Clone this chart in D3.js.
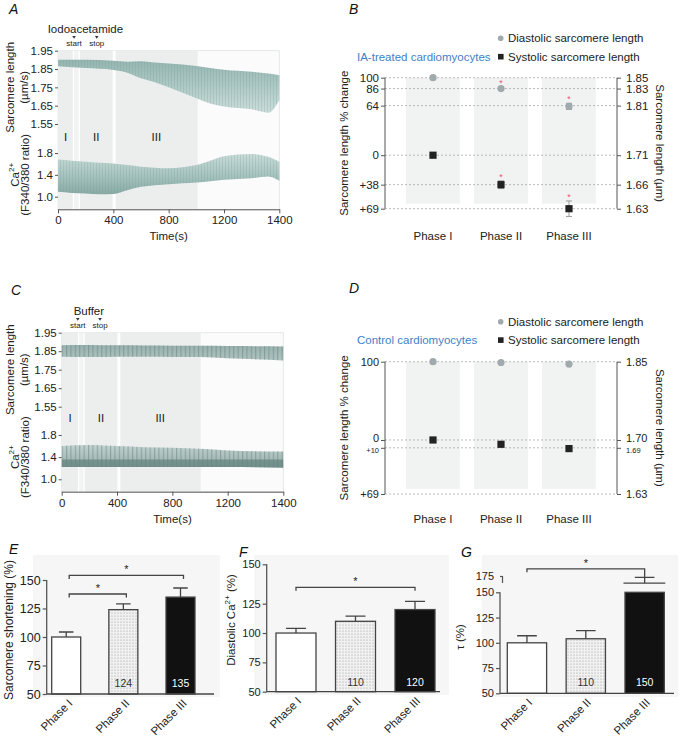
<!DOCTYPE html>
<html><head><meta charset="utf-8">
<script src="https://cdn.jsdelivr.net/npm/d3@7"></script>
<style>
body{margin:0;background:#fff}
svg{font-family:"Liberation Sans",Arial,Helvetica,sans-serif;display:block}
</style>
</head><body>
<svg id="c" width="680" height="740"></svg>
<script>
// ================= DATA =================
const timeTicks = [0, 400, 800, 1200, 1400];
const slTicks = [1.95, 1.85, 1.75, 1.65, 1.55];
const caTicks = [1.8, 1.4, 1.0];
const romanPhases = ["I", "II", "III"];
const phaseLabels = ["Phase I", "Phase II", "Phase III"];

// Panel A (iodoacetamide) – phases (s), start/stop marks (s), trace envelopes
const aPhaseStart = [0, 154, 412];
const aPhaseEnd = [111, 400, 1010];
const aMarks = [116, 280];
const aSLTime = [0, 200, 400, 500, 600, 700, 800, 900, 1000, 1100, 1200, 1300, 1360, 1400];
const aSLHigh = [1.900, 1.900, 1.895, 1.890, 1.893, 1.886, 1.880, 1.875, 1.866, 1.856, 1.846, 1.835, 1.826, 1.816];
const aSLLow  = [1.865, 1.855, 1.845, 1.830, 1.800, 1.778, 1.750, 1.720, 1.690, 1.662, 1.645, 1.630, 1.612, 1.680];
const aCaTime = [0, 100, 200, 300, 400, 500, 600, 700, 800, 900, 1000, 1100, 1200, 1300, 1360, 1400];
const aCaHigh = [1.68, 1.66, 1.64, 1.62, 1.61, 1.58, 1.55, 1.53, 1.52, 1.54, 1.58, 1.66, 1.74, 1.78, 1.73, 1.64];
const aCaLow  = [1.09, 1.07, 1.06, 1.045, 1.05, 1.12, 1.18, 1.21, 1.23, 1.245, 1.26, 1.285, 1.31, 1.34, 1.37, 1.29];

// Panel C (buffer)
const cPhaseStart = [0, 162, 419];
const cPhaseEnd = [122, 407, 1005];
const cMarks = [116, 277];
const cTime = [0, 200, 400, 600, 800, 1000, 1200, 1400];
const cSLHigh = [1.882, 1.884, 1.882, 1.881, 1.880, 1.879, 1.878, 1.876];
const cSLLow  = [1.820, 1.818, 1.820, 1.820, 1.819, 1.818, 1.812, 1.800];
const cCaHigh = [1.60, 1.62, 1.60, 1.58, 1.57, 1.55, 1.52, 1.50];
const cCaLow  = [1.22, 1.22, 1.22, 1.22, 1.22, 1.22, 1.22, 1.21];

// Panel B (IA-treated): % change (negative = shortening, labelled "+")
const bDiastolic = [100, 86, 63];
const bDiaErr = [1, 2, 4];
const bSystolic = [0, -38, -69];
const bSysErr = [1.5, 5, 10];
const bSig = [false, true, true];
const bTicks = [100, 86, 64, 0, -38, -69];
const bTickLabels = ["100", "86", "64", "0", "+38", "+69"];
const bRightLabels = ["1.85", "1.83", "1.81", "1.71", "1.66", "1.63"];

// Panel D (control)
const dDiastolic = [100, 99, 97];
const dDiaErr = [0, 0, 0];
const dSystolic = [0, -5.5, -11];
const dSysErr = [0, 0, 0];
const dSig = [false, false, false];
const dTicks = [100, 0, -10, -69];
const dTickLabels = ["100", "0", "+10", "+69"];
const dRightLabels = ["1.85", "1.70", "1.69", "1.63"];
const dSmallTick = [false, false, true, false];

// Panel E – sarcomere shortening (%)
const eValues = [100, 124, 135];
const eErrors = [4.4, 5, 8];
const eLabels = ["", "124", "135"];
const eTicks = [50, 75, 100, 125, 150];
const eSig = [[0, 1, 137.7], [0, 2, 154]];

// Panel F – diastolic Ca2+ (%)
const fValues = [100, 110, 120];
const fErrors = [4, 4.4, 6.5];
const fLabels = ["", "110", "120"];
const fTicks = [50, 75, 100, 125, 150];
const fSig = [[0, 2, 135.4]];

// Panel G – tau (%)
const gValues = [100, 104, 150];
const gErrors = [7, 8, 23];
const gLabels = ["", "110", "150"];
const gTicks = [50, 75, 100, 125, 150, 175];
const gSig = [[0, 2, 186]];

// ================= DRAWING =================
const FONT = "'Liberation Sans', Arial, Helvetica, sans-serif";
const svg = d3.select("#c");
svg.append("rect").attr("width", 680).attr("height", 740).attr("fill", "#fff");
const defs = svg.append("defs");

function linGrad(id, stops) {
  const g = defs.append("linearGradient").attr("id", id)
    .attr("x1", 0).attr("y1", 0).attr("x2", 0).attr("y2", 1);
  stops.forEach(s => g.append("stop").attr("offset", s[0]).attr("stop-color", s[1]));
}
function stripes(id, w, sw, color, op) {
  const p = defs.append("pattern").attr("id", id).attr("patternUnits", "userSpaceOnUse")
    .attr("width", w).attr("height", 20);
  p.append("rect").attr("x", 0).attr("width", sw).attr("height", 20).attr("fill", color).attr("opacity", op);
}
linGrad("gASL", [[0, "#95b5b0"], [0.4, "#a9c5c1"], [1, "#cbdddb"]]);
linGrad("gACa", [[0, "#c8dbd8"], [0.5, "#a9c5c1"], [1, "#88aaa5"]]);
linGrad("gCSL", [[0, "#98b1ae"], [1, "#afc3c0"]]);
linGrad("gCCa", [[0, "#c2d2cf"], [0.6, "#a7bcb9"], [0.68, "#76928e"], [1, "#728f8b"]]);
stripes("sA", 3, 0.8, "#6f958f", 0.28);
stripes("sC", 4.4, 1.1, "#627f7b", 0.5);
// stipple for phase II bars
const st = defs.append("pattern").attr("id", "stip").attr("patternUnits", "userSpaceOnUse")
  .attr("width", 3).attr("height", 3);
st.append("rect").attr("width", 3).attr("height", 3).attr("fill", "#f1f1f1");
st.append("circle").attr("cx", 1).attr("cy", 1).attr("r", 0.6).attr("fill", "#9a9a9a");

function styleAxis(sel, fs) {
  sel.attr("font-family", FONT).attr("font-size", fs);
  sel.selectAll("text").attr("fill", "#222");
  sel.selectAll("line").attr("stroke", "#555");
  sel.select(".domain").attr("stroke", "#555");
}
function panelLetter(t, x, y) {
  svg.append("text").attr("x", x).attr("y", y).attr("font-size", 14).attr("font-style", "italic")
    .attr("fill", "#111").text(t);
}
function rotText(x, y, angle, parts, fs, anchor) {
  const t = svg.append("text").attr("transform", `translate(${x},${y}) rotate(${angle})`)
    .attr("text-anchor", anchor || "middle").attr("font-size", fs).attr("fill", "#222");
  parts.forEach(p => {
    const ts = t.append("tspan").text(p.t);
    if (p.sup) ts.attr("font-size", fs * 0.7).attr("dy", -fs * 0.4);
    if (p.after) ts.attr("dy", fs * 0.4);
  });
  return t;
}

// ---------- Trace panels (A, C) ----------
function tracePanel(cfg) {
  const g = svg.append("g");
  const x = d3.scaleLinear().domain([0, 1200, 1400]).range(cfg.xRange);
  const ySL = d3.scaleLinear().domain([1.55, 1.95]).range(cfg.slRange);
  const yCa = d3.scaleLinear().domain([1.0, 1.8]).range(cfg.caRange);
  const x0 = x(0), x1 = x(1400), top = ySL(1.95), bot = cfg.axisY;

  g.append("rect").attr("x", x0).attr("y", top).attr("width", x1 - x0).attr("height", bot - top)
    .attr("fill", "#fbfbfb").attr("stroke", "#e0e3e3").attr("stroke-width", 0.8);
  g.append("rect").attr("x", x(cfg.phaseEnd[0])).attr("y", top)
    .attr("width", x(cfg.phaseStart[1]) - x(cfg.phaseEnd[0])).attr("height", bot - top).attr("fill", "#f2f3f3");
  cfg.phaseStart.forEach((s, i) => {
    g.append("rect").attr("x", x(s)).attr("y", top).attr("width", x(cfg.phaseEnd[i]) - x(s))
      .attr("height", bot - top).attr("fill", "#eceeee");
  });
  [cfg.phaseEnd[0], cfg.phaseStart[1], cfg.phaseEnd[1], cfg.phaseStart[2]].forEach(t => {
    g.append("line").attr("x1", x(t)).attr("x2", x(t)).attr("y1", top).attr("y2", bot)
      .attr("stroke", "#fff").attr("stroke-width", 1.2);
  });
  // phase labels
  cfg.phaseStart.forEach((s, i) => {
    g.append("text").attr("x", x((s + cfg.phaseEnd[i]) / 2)).attr("y", cfg.labelY)
      .attr("text-anchor", "middle").attr("font-size", 11.5).attr("fill", "#222").text(romanPhases[i]);
  });

  const slData = cfg.slTime.map((t, i) => ({ t, hi: cfg.slHigh[i], lo: cfg.slLow[i] }));
  const caData = cfg.caTime.map((t, i) => ({ t, hi: cfg.caHigh[i], lo: cfg.caLow[i] }));
  const slArea = d3.area().x(d => x(d.t)).y0(d => ySL(d.lo)).y1(d => ySL(d.hi)).curve(d3.curveMonotoneX);
  const caArea = d3.area().x(d => x(d.t)).y0(d => yCa(d.lo)).y1(d => yCa(d.hi)).curve(d3.curveMonotoneX);
  g.append("path").attr("d", slArea(slData)).attr("fill", `url(#${cfg.slGrad})`);
  g.append("path").attr("d", slArea(slData)).attr("fill", `url(#${cfg.stripe})`);
  g.append("path").attr("d", caArea(caData)).attr("fill", `url(#${cfg.caGrad})`);
  g.append("path").attr("d", caArea(caData)).attr("fill", `url(#${cfg.stripe})`);

  // axes
  const xa = g.append("g").attr("transform", `translate(0,${bot})`)
    .call(d3.axisBottom(x).tickValues(timeTicks).tickFormat(d3.format("d")).tickSize(4).tickSizeOuter(0).tickPadding(3));
  styleAxis(xa, 11.5);
  const ya1 = g.append("g").attr("transform", `translate(${x0},0)`)
    .call(d3.axisLeft(ySL).tickValues(slTicks).tickFormat(d3.format(".2f")).tickSize(3).tickPadding(2));
  ya1.select(".domain").remove();
  styleAxis(ya1, 11.5);
  const ya2 = g.append("g").attr("transform", `translate(${x0},0)`)
    .call(d3.axisLeft(yCa).tickValues(caTicks).tickFormat(d3.format(".1f")).tickSize(3).tickPadding(2));
  ya2.select(".domain").remove();
  styleAxis(ya2, 11.5);

  g.append("text").attr("x", (x0 + x1) / 2).attr("y", bot + 31).attr("text-anchor", "middle")
    .attr("font-size", 11.5).attr("fill", "#222").text("Time(s)");

  // agent annotation
  g.append("text").attr("x", x((cfg.marks[0] + cfg.marks[1]) / 2)).attr("y", cfg.markY - 4)
    .attr("text-anchor", "middle").attr("font-size", 11.5).attr("fill", "#222").text(cfg.agent);
  ["start", "stop"].forEach((s, i) => {
    g.append("path").attr("transform", `translate(${x(cfg.marks[i])},${cfg.markY})`)
      .attr("d", "M-1.8,-1.4L1.8,-1.4L0,1.4Z").attr("fill", "#333");
    g.append("text").attr("x", x(cfg.marks[i])).attr("y", cfg.markY + 9).attr("text-anchor", "middle")
      .attr("font-size", 8).attr("fill", "#222").text(s);
  });

  // y titles
  const slMid = (ySL(1.95) + ySL(1.55)) / 2;
  rotText(13.5, slMid, -90, [{ t: "Sarcomere length" }], 11.5);
  rotText(27.5, slMid, -90, [{ t: "(µm/s)" }], 11.5);
  const caMid = (yCa(1.8) + yCa(1.0)) / 2;
  rotText(18.5, caMid, -90, [{ t: "Ca" }, { t: "2+", sup: true }], 11.5);
  rotText(29, caMid, -90, [{ t: "(F340/380 ratio)" }], 11.5);
}

tracePanel({
  xRange: [58, 224, 279.3], slRange: [124, 50.7], caRange: [196.7, 153], axisY: 209.3,
  phaseStart: aPhaseStart, phaseEnd: aPhaseEnd, labelY: 140.5, marks: aMarks, markY: 37.3,
  agent: "Iodoacetamide", slTime: aSLTime, slHigh: aSLHigh, slLow: aSLLow,
  caTime: aCaTime, caHigh: aCaHigh, caLow: aCaLow,
  slGrad: "gASL", caGrad: "gACa", stripe: "sA"
});
tracePanel({
  xRange: [61.7, 227.7, 283.3], slRange: [406.7, 332.7], caRange: [479.3, 435], axisY: 491.7,
  phaseStart: cPhaseStart, phaseEnd: cPhaseEnd, labelY: 422, marks: cMarks, markY: 319.3,
  agent: "Buffer", slTime: cTime, slHigh: cSLHigh, slLow: cSLLow,
  caTime: cTime, caHigh: cCaHigh, caLow: cCaLow,
  slGrad: "gCSL", caGrad: "gCCa", stripe: "sC"
});

// ---------- Dot panels (B, D) ----------
function dotPanel(cfg) {
  const g = svg.append("g");
  const y = d3.scaleLinear().domain([-69, 100]).range(cfg.yRange);
  const x = d3.scalePoint().domain(phaseLabels).range([433, 569]);
  const xl = 385, xr = 617, bw = 54;
  const mainFs = cfg.small ? 11 : 11.5;
  // bands
  phaseLabels.forEach(p => {
    g.append("rect").attr("x", x(p) - bw / 2).attr("y", y(100)).attr("width", bw)
      .attr("height", y(-69) - y(100) - 5).attr("fill", "#f1f2f2");
  });
  // grid
  cfg.ticks.forEach(t => {
    g.append("line").attr("x1", xl).attr("x2", xr).attr("y1", y(t)).attr("y2", y(t))
      .attr("stroke", "#a9a9a9").attr("stroke-width", 0.8).attr("stroke-dasharray", "2,2");
  });
  // axes
  const la = g.append("g").attr("transform", `translate(${xl},0)`)
    .call(d3.axisLeft(y).tickValues(cfg.ticks).tickFormat((d, i) => cfg.tickLabels[i]).tickSize(4).tickPadding(2).tickSizeOuter(0));
  la.select(".domain").attr("d", `M0,${y(100)}V${y(-69)}`);
  styleAxis(la, mainFs);
  const ra = g.append("g").attr("transform", `translate(${xr},0)`)
    .call(d3.axisRight(y).tickValues(cfg.ticks).tickFormat((d, i) => cfg.rightLabels[i]).tickSize(4).tickPadding(5).tickSizeOuter(0));
  ra.select(".domain").attr("d", `M0,${y(100)}V${y(-69)}`);
  styleAxis(ra, mainFs);
  if (cfg.small) {
    [la, ra].forEach(ax => {
      ax.selectAll(".tick text")
        .attr("font-size", (d, i) => cfg.small[i] ? 7.5 : mainFs)
        .attr("dy", (d, i) => cfg.small[i] ? "0.62em" : (cfg.ticks[i] === 0 ? "0.1em" : "0.32em"));
    });
  }
  // error bars
  function errBar(cx, v, e) {
    if (!e) return;
    g.append("path").attr("d", `M${cx - 3},${y(v + e)}H${cx + 3}M${cx},${y(v + e)}V${y(v - e)}M${cx - 3},${y(v - e)}H${cx + 3}`)
      .attr("stroke", "#9c9c9c").attr("stroke-width", 1).attr("fill", "none");
  }
  phaseLabels.forEach((p, i) => {
    errBar(x(p), cfg.dia[i], cfg.diaErr[i]);
    errBar(x(p), cfg.sys[i], cfg.sysErr[i]);
  });
  g.selectAll(".dia").data(cfg.dia).join("circle")
    .attr("cx", (d, i) => x(phaseLabels[i])).attr("cy", d => y(d)).attr("r", 3.6).attr("fill", "#a0a9ab");
  g.selectAll(".sys").data(cfg.sys).join("rect")
    .attr("x", (d, i) => x(phaseLabels[i]) - 3.6).attr("y", d => y(d) - 3.6)
    .attr("width", 7.2).attr("height", 7.2).attr("fill", "#222");
  // asterisks
  phaseLabels.forEach((p, i) => {
    if (!cfg.sig[i]) return;
    [[cfg.dia[i], cfg.diaErr[i]], [cfg.sys[i], cfg.sysErr[i]]].forEach(([v, e]) => {
      g.append("text").attr("x", x(p)).attr("y", y(v + e) - 1).attr("text-anchor", "middle")
        .attr("font-size", 9).attr("fill", "#e4566f").text("*");
    });
  });
  // phase labels
  phaseLabels.forEach(p => {
    g.append("text").attr("x", x(p)).attr("y", cfg.phaseY).attr("text-anchor", "middle")
      .attr("font-size", 11.5).attr("fill", "#222").text(p);
  });
  // legend
  const ly = cfg.legendY;
  g.append("circle").attr("cx", 500.7).attr("cy", ly).attr("r", 2.8).attr("fill", "#a0a9ab");
  g.append("text").attr("x", 508).attr("y", ly + 4).attr("font-size", 11.5).attr("fill", "#222").text("Diastolic sarcomere length");
  g.append("rect").attr("x", 498).attr("y", ly + 18.4 - 2.8).attr("width", 5.6).attr("height", 5.6).attr("fill", "#222");
  g.append("text").attr("x", 508).attr("y", ly + 22.4).attr("font-size", 11.5).attr("fill", "#222").text("Systolic sarcomere length");
  g.append("text").attr("x", 357).attr("y", ly + 22.4).attr("font-size", 11.5).attr("fill", "#3f7fc8").text(cfg.title);
  // axis titles
  const mid = (y(100) + y(-69)) / 2;
  rotText(348, mid, -90, [{ t: "Sarcomere length % change" }], 11.5);
  rotText(655.5, mid, 90, [{ t: "Sarcomere length (µm)" }], 11.5);
}

dotPanel({
  yRange: [208.7, 77.7], ticks: bTicks, tickLabels: bTickLabels, rightLabels: bRightLabels,
  dia: bDiastolic, diaErr: bDiaErr, sys: bSystolic, sysErr: bSysErr, sig: bSig,
  phaseY: 240, legendY: 38.3, title: "IA-treated cardiomyocytes"
});
dotPanel({
  yRange: [494, 361.7], ticks: dTicks, tickLabels: dTickLabels, rightLabels: dRightLabels, small: dSmallTick,
  dia: dDiastolic, diaErr: dDiaErr, sys: dSystolic, sysErr: dSysErr, sig: dSig,
  phaseY: 523, legendY: 321.7, title: "Control cardiomyocytes"
});

// ---------- Bar panels (E, F, G) ----------
const barFills = ["#fff", "url(#stip)", "#111"];
function barPanel(cfg) {
  const g = svg.append("g");
  const x = d3.scaleBand().domain(phaseLabels).range(cfg.xRange).paddingInner(cfg.pad).paddingOuter(0);
  const y = d3.scaleLinear().domain(cfg.yDomain).range(cfg.yRange);
  const bw = x.bandwidth();
  const base = y(50);
  g.append("rect").attr("x", cfg.bg[0]).attr("y", cfg.bg[1]).attr("width", cfg.bg[2]).attr("height", cfg.bg[3])
    .attr("fill", "#f6f6f6");
  g.selectAll(".bar").data(cfg.values).join("rect")
    .attr("x", (d, i) => x(phaseLabels[i])).attr("width", bw)
    .attr("y", d => y(d)).attr("height", d => base - y(d))
    .attr("fill", (d, i) => barFills[i]).attr("stroke", "#444").attr("stroke-width", 1.3);
  // error bars (upper)
  cfg.values.forEach((v, i) => {
    const cx = x(phaseLabels[i]) + bw / 2, e = cfg.errors[i];
    const y0 = (cfg.breakVal && i === 2) ? y(cfg.breakVal) : y(v);
    g.append("path").attr("d", `M${cx},${y0}V${y(v + e)}M${cx - bw * 0.25},${y(v + e)}H${cx + bw * 0.25}`)
      .attr("stroke", "#444").attr("stroke-width", 1.3).attr("fill", "none");
  });
  if (cfg.breakVal) {
    const bx = x(phaseLabels[2]);
    g.append("line").attr("x1", bx - 1.5).attr("x2", bx + bw + 1).attr("y1", y(cfg.breakVal)).attr("y2", y(cfg.breakVal))
      .attr("stroke", "#444").attr("stroke-width", 1.1);
  }
  // value labels
  cfg.labels.forEach((l, i) => {
    if (!l) return;
    g.append("text").attr("x", x(phaseLabels[i]) + bw / 2).attr("y", cfg.labelY).attr("text-anchor", "middle")
      .attr("font-size", 10.5).attr("fill", i === 2 ? "#fff" : "#333").text(l);
  });
  // significance
  cfg.sig.forEach(([a, b, lvl]) => {
    const xa = x(phaseLabels[a]) + bw / 2 + cfg.brShift, xb = x(phaseLabels[b]) + bw / 2 + cfg.brShift;
    const yl = y(lvl);
    const dropR = cfg.dropToCap ? y(cfg.values[b] + cfg.errors[b]) : yl + 3.5;
    g.append("path").attr("d", `M${xa},${yl + 3.5}V${yl}H${xb}V${dropR}`)
      .attr("stroke", "#444").attr("stroke-width", 1.3).attr("fill", "none");
    g.append("text").attr("x", (xa + xb) / 2).attr("y", yl - 2).attr("text-anchor", "middle")
      .attr("font-size", 11).attr("fill", "#222").text("*");
  });
  // axes
  const ya = g.append("g").attr("transform", `translate(${cfg.axisX},0)`)
    .call(d3.axisLeft(y).tickValues(cfg.ticks).tickSize(4).tickPadding(2).tickSizeOuter(0));
  ya.select(".domain").attr("d", `M0,${base}V${y(150)}`);
  styleAxis(ya, cfg.tickFs);
  ya.selectAll("line").attr("stroke-width", 1.2);
  ya.select(".domain").attr("stroke-width", 1.3);
  if (cfg.topSeg) {
    ya.selectAll(".tick").filter(d => d === 175).select("line").attr("x2", 2.5);
    g.append("path").attr("d", `M${cfg.axisX + 2.5},${y(175)}V${y(175) + 7}`).attr("stroke", "#555").attr("stroke-width", 1.2);
  }
  g.append("line").attr("x1", cfg.axisX).attr("x2", cfg.xAxisEnd).attr("y1", base).attr("y2", base)
    .attr("stroke", "#444").attr("stroke-width", 1.3);
  phaseLabels.forEach(p => {
    g.append("text").attr("transform", `translate(${x(p) + bw / 2 + cfg.rotShift},${base + 10}) rotate(-45)`)
      .attr("text-anchor", "end").attr("font-size", 11.5).attr("fill", "#222").text(p);
  });
  rotText(cfg.titleX, cfg.titleY, -90, cfg.title, cfg.titleFs);
}

barPanel({
  xRange: [51.7, 195], pad: 0.4926, yDomain: [50, 150], yRange: [694, 580], axisX: 46.7, xAxisEnd: 214,
  values: eValues, errors: eErrors, labels: eLabels, ticks: eTicks, sig: eSig, labelY: 687,
  bg: [33, 555, 187, 142], brShift: 3, rotShift: 7, tickFs: 12.5,
  title: [{ t: "Sarcomere shortening (%)" }], titleX: 13, titleY: 630, titleFs: 12
});
barPanel({
  xRange: [276, 435], pad: 0.328, yDomain: [50, 125, 150], yRange: [691.7, 603.7, 564.3], axisX: 266.7, xAxisEnd: 440,
  values: fValues, errors: fErrors, labels: fLabels, ticks: fTicks, sig: fSig, labelY: 686,
  bg: [254, 555, 195, 140], brShift: 0, rotShift: 6, tickFs: 11,
  title: [{ t: "Diastolic Ca" }, { t: "2+", sup: true }, { t: " (%)", after: true }], titleX: 234.5, titleY: 620, titleFs: 11.5
});
barPanel({
  xRange: [507.3, 664.3], pad: 0.332, yDomain: [50, 150, 175], yRange: [693.3, 592.3, 576], axisX: 500, xAxisEnd: 674,
  values: gValues, errors: gErrors, labels: gLabels, ticks: gTicks, sig: gSig, labelY: 686,
  bg: [482, 555, 196, 142], brShift: 0, rotShift: 6, tickFs: 11, breakVal: 164, topSeg: true, dropToCap: true,
  title: [{ t: "τ (%)" }], titleX: 464, titleY: 637, titleFs: 11.5
});

// panel letters
panelLetter("A", 9, 13.5);
panelLetter("B", 349, 13.5);
panelLetter("C", 11, 295);
panelLetter("D", 349, 293);
panelLetter("E", 9, 554);
panelLetter("F", 239, 557);
panelLetter("G", 461, 557);
</script>
</body></html>
